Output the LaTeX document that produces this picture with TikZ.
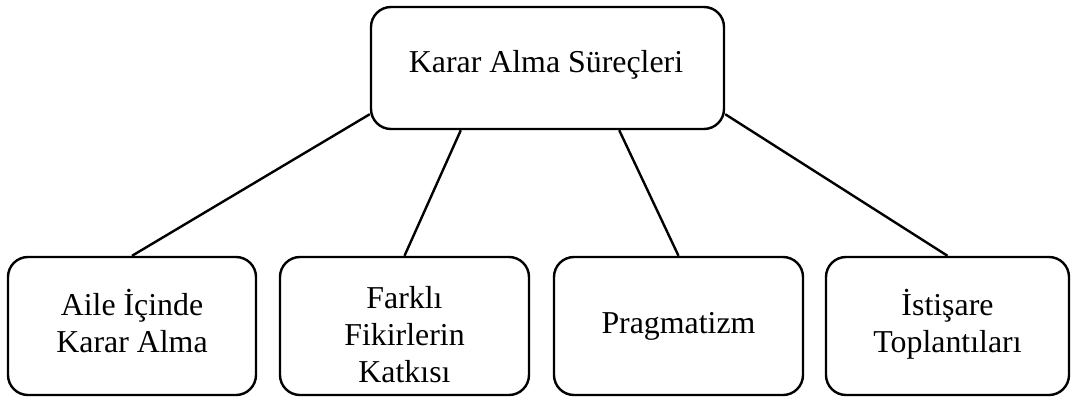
\documentclass[tikz,border=0pt]{standalone}
\usepackage{fontspec}
\setmainfont{Liberation Serif}
\usetikzlibrary{calc}
\begin{document}
\begin{tikzpicture}[x=0.75pt,y=-0.75pt,
  box/.style={draw, line width=1.8pt, rounded corners=15pt, inner sep=0pt},
  lbl/.style={font=\fontsize{23.9}{27.75}\selectfont, align=center, inner sep=0pt, anchor=base},
  link/.style={line width=1.8pt}]
\useasboundingbox (0,0) rectangle (1072,397);

% boxes
\node[box, minimum width=264.75pt, minimum height=91.5pt] (top) at (547.5,68) {};
\node[box, minimum width=186pt, minimum height=103.5pt] (b1) at (132,326) {};
\node[box, minimum width=186.75pt, minimum height=103.5pt] (b2) at (404.5,326) {};
\node[box, minimum width=186.75pt, minimum height=103.5pt] (b3) at (678.5,326) {};
\node[box, minimum width=182.25pt, minimum height=103.5pt] (b4) at (947.5,326) {};

% labels (base anchor sits on the last line)
\node[lbl] (t0) at ($(top)+(-1.5,4)$) {Karar Alma Süreçleri};
\node[lbl] (t1) at ($(b1)+(0,26.5)$) {Aile İçinde\\Karar Alma};
\node[lbl] (t2) at ($(b2)+(0,56)$) {Farklı\\Fikirlerin\\Katkısı};
\node[lbl] (t3) at ($(b3)+(0,7)$) {Pragmatizm};
\node[lbl] (t4) at ($(b4)+(0,26.5)$) {İstişare\\Toplantıları};

% connectors
\draw[link] ($(top.south west)+(0,-16)$) -- (b1.north);
\draw[link] ($(top.south west)+(91,0)$) -- (b2.north);
\draw[link] ($(top.south east)+(-106,0)$) -- (b3.north);
\draw[link] ($(top.south east)+(0,-16)$) -- (b4.north);
\end{tikzpicture}
\end{document}
